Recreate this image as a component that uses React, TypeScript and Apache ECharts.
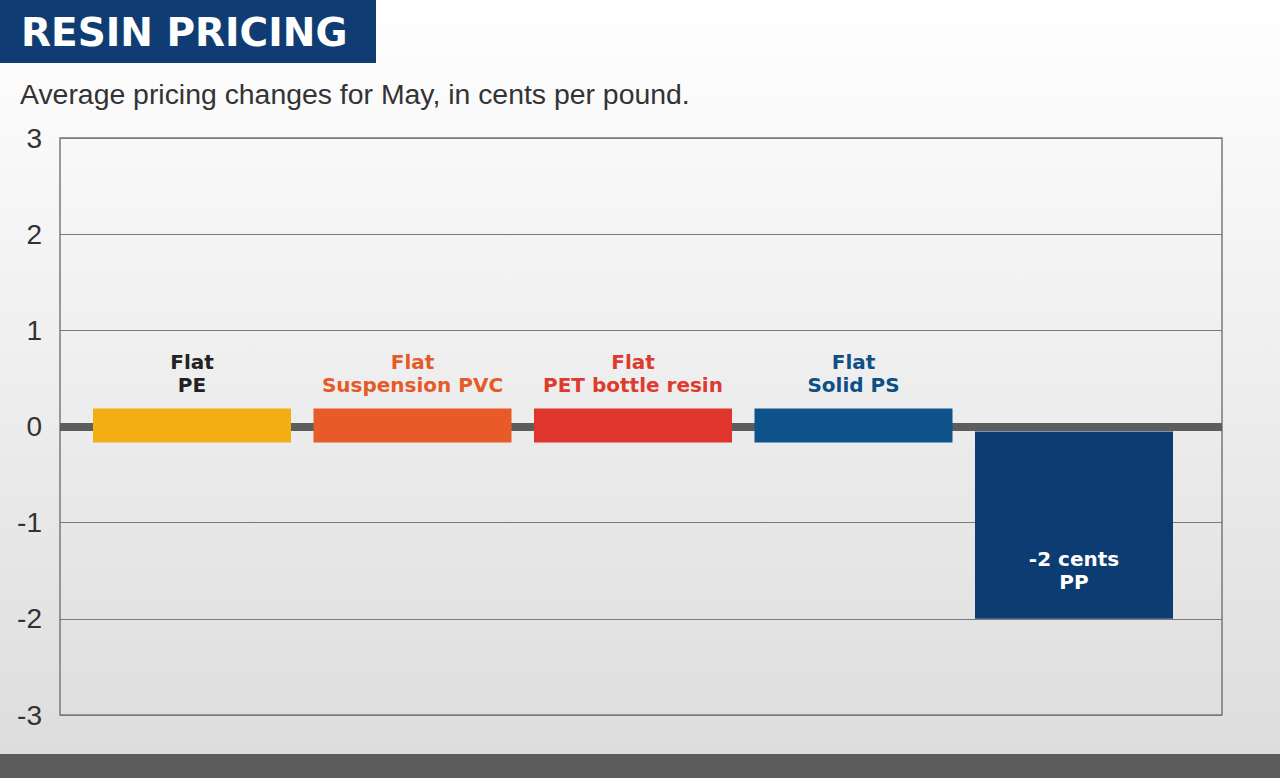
import React, { useEffect, useRef } from "react";
import * as echarts from "echarts";

const categories = ["PE", "Suspension PVC", "PET bottle resin", "Solid PS", "PP"];
const values = [0, 0, 0, 0, -2];
const valueTexts = ["Flat", "Flat", "Flat", "Flat", "-2 cents"];
const barColors = ["#f3ae14", "#e85a28", "#e0352c", "#0d528a", "#0c3c72"];
const labelColors = ["#222222", "#e55b27", "#de3a2d", "#0e4f86", "#ffffff"];
const yMin = -3;
const yMax = 3;
const yInterval = 1;
const titleText = "RESIN PRICING";
const subtitleText = "Average pricing changes for May, in cents per pound.";

export default function App() {
  const ref = useRef<HTMLDivElement>(null);
  useEffect(() => {
    if (!ref.current) return;
    const chart = echarts.init(ref.current, undefined, { renderer: "svg" });
    const labelFont = 'bold 20px "DejaVu Sans", Arial, sans-serif';
    const option: any = {
      animation: false,
      backgroundColor: new echarts.graphic.LinearGradient(0, 0, 0, 1, [
        { offset: 0, color: "#ffffff" },
        { offset: 1, color: "#dcdcdc" },
      ]),
      graphic: [
        { type: "rect", left: 0, top: 0, shape: { width: 376, height: 63 }, style: { fill: "#0f3d73" } },
        {
          type: "text",
          x: 21,
          y: 32,
          style: {
            text: titleText,
            fill: "#ffffff",
            font: 'bold 39px "DejaVu Sans", Arial, sans-serif',
            verticalAlign: "middle",
          },
        },
        {
          type: "text",
          x: 20,
          y: 94,
          style: {
            text: subtitleText,
            fill: "#333333",
            font: '28.4px "Liberation Sans", Arial, sans-serif',
            verticalAlign: "middle",
          },
        },
        { type: "rect", left: 0, top: 754, shape: { width: 1280, height: 24 }, style: { fill: "#5c5c5c" } },
      ],
      grid: [
        {
          left: 60,
          right: 58,
          top: 138,
          bottom: 63,
          show: true,
          borderColor: "#7a7a7a",
          borderWidth: 1.5,
          backgroundColor: "transparent",
        },
        { left: 81.75, right: 95.75, top: 138, bottom: 63 },
      ],
      xAxis: [
        {
          gridIndex: 0,
          type: "value",
          min: 0,
          max: 1,
          axisLine: { show: true, onZero: true, lineStyle: { color: "#5d5d5d", width: 8, cap: "butt" } },
          axisTick: { show: false },
          axisLabel: { show: false },
          splitLine: { show: false },
        },
        {
          gridIndex: 1,
          type: "category",
          data: categories,
          show: false,
        },
      ],
      yAxis: [
        {
          gridIndex: 0,
          type: "value",
          min: yMin,
          max: yMax,
          interval: yInterval,
          axisLine: { show: false },
          axisTick: { show: false },
          axisLabel: {
            color: "#333333",
            fontSize: 28,
            fontFamily: '"Liberation Sans", Arial, sans-serif',
            margin: 18,
          },
          splitLine: { show: true, lineStyle: { color: "#7a7a7a", width: 1.2 } },
        },
        { gridIndex: 1, type: "value", min: yMin, max: yMax, show: false },
      ],
      series: [
        {
          type: "custom",
          xAxisIndex: 1,
          yAxisIndex: 1,
          data: values.map((v, i) => [i, v]),
          renderItem: (params: any, api: any) => {
            const idx = params.dataIndex;
            const v = api.value(1);
            const p0 = api.coord([idx, 0]);
            const pv = api.coord([idx, v]);
            const w = api.size([1, 0])[0] * 0.898;
            const x = p0[0] - w / 2;
            const children: any[] = [];
            if (v === 0) {
              children.push({
                type: "rect",
                shape: { x, y: p0[1] - 18, width: w, height: 34 },
                style: { fill: barColors[idx] },
              });
              children.push({
                type: "text",
                x: p0[0],
                y: p0[1] - 30,
                style: {
                  text: valueTexts[idx] + "\n" + categories[idx],
                  fill: labelColors[idx],
                  font: labelFont,
                  align: "center",
                  verticalAlign: "bottom",
                  lineHeight: 23,
                },
              });
            } else {
              const top = Math.min(p0[1] + 5, pv[1]);
              const bottom = Math.max(p0[1] + 5, pv[1]);
              children.push({
                type: "rect",
                shape: { x, y: top, width: w, height: bottom - top },
                style: { fill: barColors[idx] },
              });
              const pl = api.coord([idx, v * 0.75]);
              children.push({
                type: "text",
                x: p0[0],
                y: pl[1],
                style: {
                  text: valueTexts[idx] + "\n" + categories[idx],
                  fill: labelColors[idx],
                  font: labelFont,
                  align: "center",
                  verticalAlign: "middle",
                  lineHeight: 23,
                },
              });
            }
            return { type: "group", children };
          },
        },
      ],
    };
    chart.setOption(option);
    return () => chart.dispose();
  }, []);
  return (
    <div
      ref={ref}
      style={{ position: "absolute", left: 0, top: 0, width: 1280, height: 778 }}
    />
  );
}
